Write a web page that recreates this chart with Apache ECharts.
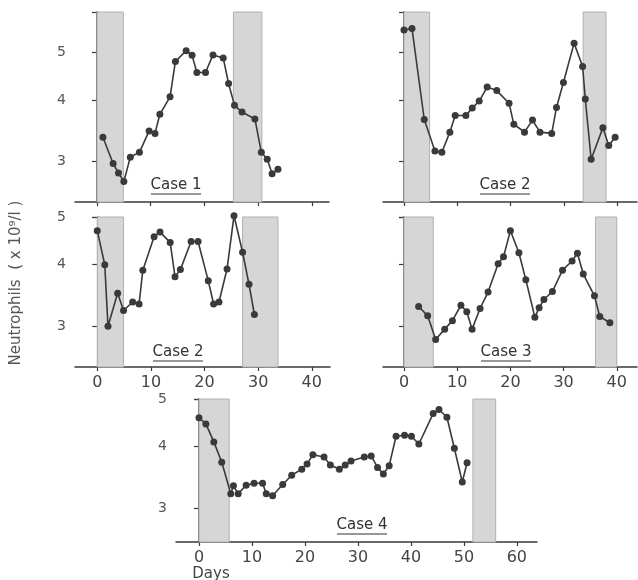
<!DOCTYPE html>
<html><head><meta charset="utf-8">
<script src="https://cdn.jsdelivr.net/npm/echarts@6/dist/echarts.min.js"></script>
<style>html,body{margin:0;padding:0;background:#fff}#c{width:638px;height:580px}</style>
</head><body><div id="c"></div>
<script>
// ---- data ----
const case1Days = [1.1,3,4,5,6.2,7.9,9.7,10.8,11.7,13.6,14.6,16.6,17.7,18.6,20.2,21.6,23.5,24.5,25.6,27,29.4,30.6,31.7,32.6,33.7];
const case1Vals = [3.36,2.97,2.84,2.73,3.06,3.13,3.46,3.42,3.74,4.06,4.79,5.04,4.93,4.55,4.55,4.94,4.87,4.32,3.90,3.78,3.66,3.13,3.03,2.83,2.89];
const case2aDays = [0,1.5,3.8,5.8,7.1,8.6,9.6,11.6,12.8,14.1,15.6,17.4,19.7,20.6,22.6,24.1,25.5,27.7,28.6,29.9,31.9,33.5,34,35.1,37.3,38.4,39.6];
const case2aVals = [5.55,5.59,3.65,3.15,3.13,3.44,3.72,3.72,3.85,3.98,4.25,4.18,3.94,3.57,3.44,3.64,3.44,3.42,3.86,4.34,5.22,4.68,4.02,3.03,3.51,3.23,3.36];
const case2bDays = [0,1.4,2,3.8,4.9,6.6,7.8,8.5,10.6,11.7,13.6,14.5,15.5,17.5,18.8,20.7,21.7,22.7,24.2,25.5,27.1,28.3,29.3];
const case2bVals = [4.69,4.0,3.0,3.5,3.23,3.36,3.33,3.9,4.56,4.66,4.44,3.78,3.91,4.46,4.46,3.71,3.33,3.36,3.92,5.03,4.24,3.65,3.17];
const case3Days = [2.75,4.45,5.95,7.65,9.1,10.7,11.8,12.8,14.3,15.8,17.7,18.7,20,21.6,22.9,24.6,25.4,26.3,27.9,29.8,31.6,32.6,33.7,35.8,36.8,38.7];
const case3Vals = [3.29,3.15,2.82,2.96,3.08,3.31,3.21,2.96,3.26,3.52,4.02,4.15,4.69,4.23,3.73,3.13,3.27,3.40,3.53,3.90,4.07,4.22,3.83,3.46,3.14,3.05];
const case4Days = [0,1.3,2.8,4.3,6,6.5,7.4,8.9,10.4,12,12.7,13.9,15.8,17.5,19.4,20.4,21.5,23.6,24.8,26.5,27.6,28.7,31.2,32.5,33.7,34.8,35.9,37.2,38.8,40.1,41.5,44.2,45.3,46.8,48.2,49.7,50.6];
const case4Vals = [4.58,4.45,4.09,3.72,3.21,3.33,3.21,3.34,3.37,3.37,3.21,3.18,3.35,3.50,3.60,3.69,3.85,3.81,3.67,3.60,3.67,3.74,3.81,3.83,3.63,3.52,3.66,4.20,4.22,4.20,4.05,4.67,4.76,4.59,3.97,3.39,3.71];
const case1Bands = [[0,4.9],[25.4,30.7]];
const case2aBands = [[0,4.8],[33.6,37.9]];
const case2bBands = [[0,4.9],[27.1,33.7]];
const case3Bands = [[0,5.5],[36,40]];
const case4Bands = [[0,5.7],[51.7,56]];
const yTicks = [3,4,5];
const xTicks40 = [0,10,20,30,40];
const xTicks60 = [0,10,20,30,40,50,60];
const panelTitles = ['Case 1','Case 2','Case 2','Case 3','Case 4'];
const yAxisTitle = 'Neutrophils  ( x 10\u2079/l )';
const xAxisTitle = 'Days';

// ---- layout ----
const panels = [
  {days:case1Days, vals:case1Vals, bands:case1Bands, grid:{left:75,top:12,width:254,height:190}, x:[-4.1,43.2], y:[2.48,6.04], xt:xTicks40, xLabels:false, yLabels:true},
  {days:case2aDays, vals:case2aVals, bands:case2aBands, grid:{left:383,top:12,width:254,height:190}, x:[-3.94,43.7], y:[2.48,6.04], xt:xTicks40, xLabels:false, yLabels:false},
  {days:case2bDays, vals:case2bVals, bands:case2bBands, grid:{left:75,top:217,width:255,height:150}, x:[-4.15,43.4], y:[2.48,5.0], xt:xTicks40, xLabels:true, yLabels:true},
  {days:case3Days, vals:case3Vals, bands:case3Bands, grid:{left:383,top:217,width:254,height:150}, x:[-3.95,43.8], y:[2.48,5.0], xt:xTicks40, xLabels:true, yLabels:false},
  {days:case4Days, vals:case4Vals, bands:case4Bands, grid:{left:176,top:399,width:361,height:143}, x:[-4.34,63.8], y:[2.56,5.0], xt:xTicks60, xLabels:true, yLabels:true}
];
const ink = '#3a3a3a';
const grids = [], xAxes = [], yAxes = [], series = [];
panels.forEach((p, i) => {
  grids.push(Object.assign({containLabel:false}, p.grid));
  xAxes.push({
    type:'value', gridIndex:i, min:p.x[0], max:p.x[1],
    axisLine:{show:true, onZero:false, lineStyle:{color:ink, width:1.5}},
    axisTick:{show:true, customValues:p.xt, length:4, inside:false, lineStyle:{color:ink, width:1.2}},
    axisLabel:{show:p.xLabels, customValues:p.xt, color:'#444', fontSize:16, fontFamily:'DejaVu Sans', fontWeight:'normal', margin:8},
    splitLine:{show:false}
  });
  yAxes.push({
    type:'log', logBase:10, gridIndex:i, min:p.y[0], max:p.y[1],
    axisLine:{show:true, lineStyle:{color:ink, width:1.5}},
    axisTick:{show:true, customValues:yTicks.concat([p.y[1]]), length:5, lineStyle:{color:ink, width:1.2}},
    axisLabel:{show:p.yLabels, customValues:yTicks, color:'#555', fontSize:14, fontFamily:'DejaVu Sans', margin:9},
    minorTick:{show:false}, splitLine:{show:false}
  });
  series.push({
    type:'line', xAxisIndex:i, yAxisIndex:i, clip:false,
    data:p.days.map((d, k) => [d, p.vals[k]]),
    symbol:'circle', symbolSize:7, showSymbol:true,
    lineStyle:{color:ink, width:1.6}, itemStyle:{color:ink},
    animation:false, z:5,
    markArea:{silent:true, itemStyle:{color:'#d6d6d6', borderColor:'#b0b0b0', borderWidth:1},
      data:p.bands.map(b => [{xAxis:b[0]}, {xAxis:b[1]}])}
  });
});

const titlePos = [[176,185],[505,185],[178,352],[506,352],[362,525]];
const graphics = panelTitles.map((t, i) => ({
  type:'group', x:titlePos[i][0], y:titlePos[i][1],
  children:[
    {type:'text', style:{text:t, x:0, y:0, align:'center', verticalAlign:'middle', font:'15px "DejaVu Sans"', fill:'#333'}},
    {type:'line', shape:{x1:-25, y1:9, x2:25, y2:9}, style:{stroke:'#333', lineWidth:1.2}}
  ]
}));
graphics.push({type:'text', x:16, y:283, rotation:Math.PI/2,
  style:{text:yAxisTitle, align:'center', verticalAlign:'middle', font:'15px "DejaVu Sans"', fill:'#555'}});
graphics.push({type:'text', x:211, y:574, style:{text:xAxisTitle, align:'center', verticalAlign:'middle', font:'15px "DejaVu Sans"', fill:'#444'}});

const chart = echarts.init(document.getElementById('c'), null, {renderer:'canvas'});
chart.setOption({backgroundColor:'#fff', animation:false, grid:grids, xAxis:xAxes, yAxis:yAxes, series:series, graphic:graphics});
</script></body></html>
